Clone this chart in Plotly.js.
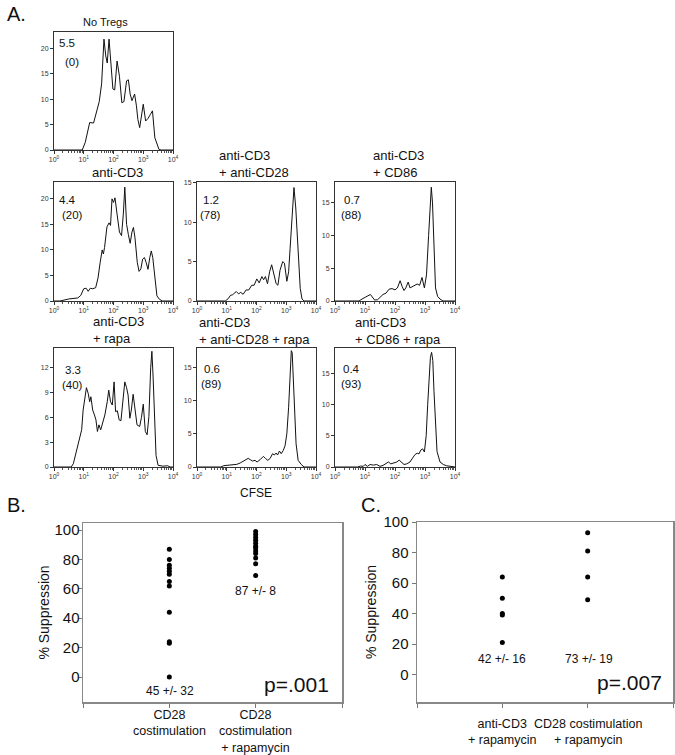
<!DOCTYPE html>
<html><head><meta charset="utf-8">
<script src="https://cdn.plot.ly/plotly-3.0.1.min.js"></script>
<style>html,body{margin:0;padding:0;background:#fff}#chart{width:675px;height:755px}</style>
</head><body><div id="chart"></div>
<script>
// ---------- DATA ----------
// Panel A: CFSE histograms (x given as log10 of CFSE intensity, y = events)
const panelTitles = ['No Tregs', 'anti-CD3', 'anti-CD3<br>+ anti-CD28', 'anti-CD3<br>+ CD86',
                     'anti-CD3<br>+ rapa', 'anti-CD3<br>+ anti-CD28 + rapa', 'anti-CD3<br>+ CD86 + rapa'];
const divisionIndex = ['5.5', '4.4', '1.2', '0.7', '3.3', '0.6', '0.4'];
const suppressionPct = ['(0)', '(20)', '(78)', '(88)', '(40)', '(89)', '(93)'];

const logCfseNoTregs = [0,0.5,0.95,1.05,1.15,1.2,1.33,1.42,1.52,1.6,1.68,1.74,1.79,1.85,1.92,1.98,2.04,2.12,2.2,2.28,2.35,2.44,2.5,2.56,2.62,2.71,2.77,2.82,2.88,2.94,3.0,3.08,3.16,3.24,3.31,3.39,3.45,3.53,3.6,4];
const countNoTregs   = [0,0,0,1.5,4.5,5.4,5.3,7.5,9.5,13,21.8,18.5,17.1,21.8,16,12,11.8,17.5,14.5,9.3,9.5,13.6,13.8,11,9.7,11,8.7,6,4.4,7,9,5.7,6.2,7,7.7,2.4,1.5,0.1,0,0];

const logCfseCD3 = [0,0.2,0.5,0.8,0.9,1.0,1.08,1.15,1.22,1.3,1.4,1.48,1.55,1.62,1.66,1.7,1.78,1.85,1.9,1.95,2.0,2.05,2.12,2.2,2.27,2.33,2.38,2.44,2.5,2.56,2.62,2.67,2.72,2.8,2.86,2.92,2.98,3.04,3.1,3.16,3.22,3.27,3.32,3.4,3.46,3.55,3.65,4];
const countCD3   = [0,0,0.4,0.6,1.1,2.4,2.5,1.9,2.5,2.4,2.6,4.5,7.5,10,9.2,10.5,14.5,15.3,14.8,20,19.3,20.2,17,13.5,12.8,17,22.3,15,13,11.3,13.5,14.4,12.5,7.5,5.8,6.3,8.2,8.5,7.5,6.2,8.5,9.8,8.5,4,1,0.3,0,0];

const logCfseCD28 = [0,0.95,1.05,1.12,1.2,1.32,1.4,1.47,1.55,1.65,1.74,1.84,1.92,2.01,2.09,2.18,2.24,2.3,2.37,2.44,2.51,2.57,2.66,2.72,2.79,2.88,2.94,3.02,3.08,3.13,3.19,3.26,3.32,3.41,3.47,3.53,3.6,4];
const countCD28   = [0,0,0.3,0.7,0.8,1.2,0.9,1.1,0.85,1.4,1.4,2.0,2.0,2.8,2.3,3.1,2.7,3.1,2.2,3.7,4.6,3.7,2.2,2.0,3.9,5.0,4.8,2.5,3.7,6.7,10,14.4,11.8,5.4,1.6,0.25,0,0];

const logCfseCD86 = [0,0.8,0.9,1.0,1.1,1.18,1.25,1.32,1.42,1.5,1.6,1.7,1.8,1.9,2.0,2.08,2.17,2.24,2.3,2.36,2.44,2.5,2.58,2.66,2.74,2.82,2.9,2.98,3.05,3.12,3.17,3.21,3.25,3.3,3.35,3.42,3.5,3.6,4];
const countCD86   = [0,0,0.3,0.6,0.8,1.0,0.5,0.15,0.2,0.6,1.0,1.2,1.8,1.9,1.7,2.0,3.1,2.2,1.6,2.0,2.9,2.0,2.2,2.4,2.6,2.4,3.6,2.0,4,10,15.5,17.4,15,7,2,0.7,0.3,0,0];

const logCfseRapa = [0,0.58,0.65,0.76,0.87,0.93,0.98,1.04,1.09,1.15,1.2,1.24,1.3,1.36,1.41,1.46,1.51,1.57,1.63,1.71,1.79,1.84,1.9,1.96,2.02,2.07,2.13,2.19,2.25,2.32,2.38,2.44,2.49,2.55,2.6,2.66,2.72,2.79,2.88,2.94,3.0,3.07,3.13,3.19,3.25,3.29,3.33,3.38,3.43,3.5,3.66,3.82,3.9,4];
const countRapa   = [0,0,0.4,2.0,3.7,4.5,6.9,8.3,9.6,8.9,7.9,8.5,6.9,6.3,5.7,4.3,5.1,4.5,5.4,6.3,7.9,9.3,7.9,7.5,10.3,6.7,6.8,5.7,5.6,8.7,10.3,9.6,8.7,5.9,6.9,8.8,7.3,5.1,4.9,6,7.6,4.3,3.9,6.1,12,14,11,5,1.4,0.2,0.1,0.15,0,0];

const logCfseCD28Rapa = [0,0.8,0.9,1.0,1.12,1.23,1.34,1.45,1.56,1.66,1.72,1.79,1.87,1.95,2.02,2.12,2.23,2.3,2.38,2.46,2.54,2.6,2.66,2.71,2.77,2.83,2.9,2.96,3.02,3.08,3.13,3.17,3.2,3.24,3.28,3.33,3.4,3.5,3.6,4];
const countCD28Rapa   = [0,0,0.2,0.25,0.2,0.3,0.4,0.6,0.9,1.2,1.3,1.1,0.9,1.0,0.75,1.1,1.6,1.3,1.0,1.3,2.0,1.8,2.1,1.8,2.4,2.0,2.5,3.2,5,9,14,17.5,17.2,13,8,3.5,1.0,0.4,0,0];

const logCfseCD86Rapa = [0,0.75,0.85,0.94,1.0,1.08,1.17,1.28,1.39,1.5,1.6,1.72,1.78,1.86,1.94,2.06,2.14,2.22,2.3,2.39,2.5,2.61,2.67,2.74,2.8,2.86,2.92,2.98,3.04,3.09,3.14,3.18,3.22,3.26,3.3,3.35,3.4,3.5,3.61,3.72,3.85,4];
const countCD86Rapa   = [0,0,0.15,0.1,0.4,0.1,0.4,0.3,0.4,0.1,0.25,0.6,0.8,0.5,0.65,0.8,1.1,0.8,0.4,0.5,0.8,1.6,2.0,2.2,2.1,2.7,2.9,2.4,5,10,15,17.5,18.3,17,12,6,2.5,0.8,0.4,0.2,0.1,0];

const histX = [logCfseNoTregs, logCfseCD3, logCfseCD28, logCfseCD86, logCfseRapa, logCfseCD28Rapa, logCfseCD86Rapa];
const histY = [countNoTregs, countCD3, countCD28, countCD86, countRapa, countCD28Rapa, countCD86Rapa];

// Panel B
const groupsB = ['CD28<br>costimulation', 'CD28<br>costimulation<br>+ rapamycin'];
const suppB_cd28 = [87, 80, 76, 74, 72, 70, 65, 62, 44, 24, 23, 0];
const suppB_cd28rapa = [99, 97, 95, 93, 91, 89, 88, 86, 84, 81, 77, 69];
const statsB = ['45 +/- 32', '87 +/- 8'];
const pB = 'p=.001';

// Panel C
const groupsC = ['anti-CD3<br>+ rapamycin', 'CD28 costimulation<br>+ rapamycin'];
const suppC_cd3rapa = [64, 50, 40, 39, 21];
const suppC_cd28rapa = [93, 81, 64, 49];
const statsC = ['42 +/- 16', '73 +/- 19'];
const pC = 'p=.007';

// ---------- LAYOUT ----------
const W = 675, H = 755;
const px = x => x / W;
const py = y => 1 - y / H;
const FONT = 'Liberation Sans, Arial, Helvetica, sans-serif';

const histBoxes = [
  [54, 32, 173, 150], [54, 182, 173, 301], [197, 182, 316, 301], [335, 182, 455, 301],
  [54, 348, 173, 467], [197, 348, 316, 467], [335, 348, 455, 467]
];
const histYRange = [23.2, 23.3, 15.1, 18.2, 14.4, 17.9, 19.0];
const histDtick = [5, 5, 5, 5, 3, 5, 5];
const titlePos = [ // x, y, anchor, size
  [105, 22, 'center', 11], [90, 172, 'left', 13], [217, 163.5, 'left', 13], [371, 163.5, 'left', 13],
  [91, 330, 'left', 13], [197, 331, 'left', 13], [353, 331, 'left', 13]
];
const numPos = [[67, 43, 72, 62], [67, 199.5, 72, 215], [211, 200, 210, 214.5], [352, 200, 351, 214.5],
                [73, 370, 72, 384.5], [212, 369, 211, 384], [351, 369, 351, 384]];

const minorVals = [];
for (let d = 1; d < 10000; d *= 10) for (let k = 2; k <= 9; k++) minorVals.push(d * k);

const data = [];
const layout = {
  width: W, height: H, margin: {l: 0, r: 0, t: 0, b: 0},
  paper_bgcolor: '#fff', plot_bgcolor: '#fff', showlegend: false,
  font: {family: FONT, color: '#111'}, annotations: []
};

histX.forEach((lx, i) => {
  const n = i + 1;
  const sfx = n === 1 ? '' : String(n);
  data.push({
    x: lx.map(v => Math.pow(10, v)), y: histY[i], type: 'scatter', mode: 'lines',
    line: {color: '#111', width: 1}, xaxis: 'x' + sfx, yaxis: 'y' + sfx, hoverinfo: 'skip'
  });
  const b = histBoxes[i];
  layout['xaxis' + sfx] = {
    domain: [px(b[0]), px(b[2])], anchor: 'y' + sfx, type: 'log', range: [0, 4],
    tickvals: [1, 10, 100, 1000, 10000],
    ticktext: ['10<sup>0</sup>', '10<sup>1</sup>', '10<sup>2</sup>', '10<sup>3</sup>', '10<sup>4</sup>'],
    tickfont: {size: 7, color: '#333'}, ticks: 'outside', ticklen: 3, tickcolor: '#333', tickwidth: 1,
    minor: {tickvals: minorVals, ticks: 'outside', ticklen: 2, tickcolor: '#555', showgrid: false},
    showline: true, mirror: true, linecolor: '#333', linewidth: 1,
    showgrid: false, zeroline: false, fixedrange: true
  };
  layout['yaxis' + sfx] = {
    domain: [py(b[3]), py(b[1])], anchor: 'x' + sfx, range: [0, histYRange[i]],
    tick0: 0, dtick: histDtick[i], tickfont: {size: 7, color: '#333'},
    ticks: 'outside', ticklen: 3, tickcolor: '#333',
    showline: true, mirror: true, linecolor: '#333', linewidth: 1,
    showgrid: false, zeroline: false, fixedrange: true
  };
  const t = titlePos[i];
  layout.annotations.push({text: panelTitles[i], xref: 'paper', yref: 'paper', x: px(t[0]), y: py(t[1]),
    xanchor: t[2], yanchor: 'middle', align: 'left', showarrow: false, font: {size: t[3], color: '#111'}});
  const p = numPos[i];
  layout.annotations.push({text: divisionIndex[i], xref: 'paper', yref: 'paper', x: px(p[0]), y: py(p[1]),
    xanchor: 'center', yanchor: 'middle', showarrow: false, font: {size: 11.5, color: '#111'}});
  layout.annotations.push({text: suppressionPct[i], xref: 'paper', yref: 'paper', x: px(p[2]), y: py(p[3]),
    xanchor: 'center', yanchor: 'middle', showarrow: false, font: {size: 11.5, color: '#111'}});
});

// Panels B and C scatter
[suppB_cd28, suppB_cd28rapa].forEach((vals, g) => {
  data.push({x: vals.map(() => g + 1), y: vals, type: 'scatter', mode: 'markers',
    marker: {size: 5, color: '#000'}, xaxis: 'x8', yaxis: 'y8', hoverinfo: 'skip'});
});
[suppC_cd3rapa, suppC_cd28rapa].forEach((vals, g) => {
  data.push({x: vals.map(() => g + 1), y: vals, type: 'scatter', mode: 'markers',
    marker: {size: 5, color: '#000'}, xaxis: 'x9', yaxis: 'y9', hoverinfo: 'skip'});
});

const scatterX = (dom, anchor) => ({
  domain: dom, anchor: anchor, range: [0, 3], tickvals: [0, 1, 2, 3], ticktext: ['', '', '', ''],
  ticks: 'outside', ticklen: 4, tickcolor: '#777',
  showline: true, mirror: true, linecolor: '#888', linewidth: 1.5,
  showgrid: false, zeroline: false, fixedrange: true
});
const scatterY = (dom, anchor, range, standoff, tstand) => ({
  domain: dom, anchor: anchor, range: range, tickvals: [0, 20, 40, 60, 80, 100],
  ticks: 'outside', ticklen: 4, tickcolor: '#777', tickfont: {size: 15, color: '#111'},
  ticklabelstandoff: standoff,
  title: {text: '% Suppression', font: {size: 14, color: '#111'}, standoff: tstand},
  showline: true, mirror: true, linecolor: '#888', linewidth: 1.5,
  showgrid: false, zeroline: false, fixedrange: true
});
layout.xaxis8 = scatterX([px(83), px(342)], 'y8');
layout.yaxis8 = scatterY([py(702), py(523)], 'x8', [-17, 104.8], -5, 1);
layout.xaxis9 = scatterX([px(417), px(673)], 'y9');
layout.yaxis9 = scatterY([py(702), py(522)], 'x9', [-18, 100], 0, 3);

// category labels placed at the category positions of each x axis
groupsB.forEach((g, i) => layout.annotations.push({text: g, xref: 'x8', yref: 'paper', x: i + 1, y: py(706),
  xanchor: 'center', yanchor: 'top', align: 'center', showarrow: false, font: {size: 12.5, color: '#111'}}));
groupsC.forEach((g, i) => layout.annotations.push({text: g, xref: 'x9', yref: 'paper', x: i + 1, y: py(715),
  xanchor: 'center', yanchor: 'top', align: 'center', showarrow: false, font: {size: 12.5, color: '#111'}}));

const ann = (text, x, y, size, anchor) => layout.annotations.push({text, xref: 'paper', yref: 'paper',
  x: px(x), y: py(y), xanchor: anchor || 'center', yanchor: 'middle', showarrow: false,
  font: {size: size, color: '#111'}});

ann('A.', 5, 14, 20, 'left');
ann('B.', 5, 505, 20, 'left');
ann('C.', 359, 505, 20, 'left');
ann('CFSE', 256, 493, 12);
ann(statsB[0], 170, 691, 12);
ann(statsB[1], 255, 591, 12);
ann(pB, 296, 684, 21);
ann(statsC[0], 502, 659, 12);
ann(statsC[1], 589, 659, 12);
ann(pC, 629, 682, 21);

Plotly.newPlot('chart', data, layout, {displayModeBar: false, staticPlot: true});
</script>
</body></html>
